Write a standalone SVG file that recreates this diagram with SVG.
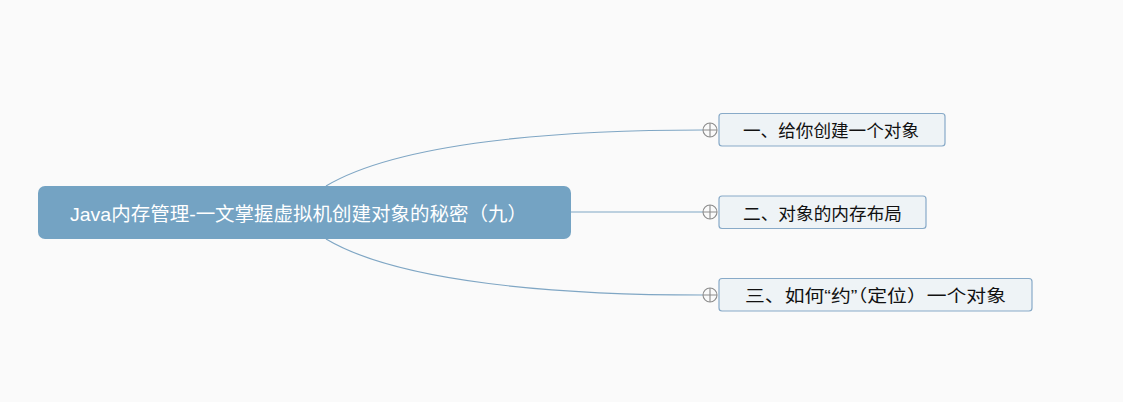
<svg xmlns="http://www.w3.org/2000/svg" width="1123" height="402" viewBox="0 0 1123 402">
<style>
.conn{fill:none;stroke:#7fa6c4;stroke-width:1.2}
.main{fill:#74a3c3}
.sub{fill:#eef3f6;stroke:#88aac8;stroke-width:1.2}
.mt{font-family:"Liberation Sans","Noto Sans CJK SC",sans-serif;font-size:19px;fill:#ffffff}
.st{font-family:"Liberation Sans","Noto Sans CJK SC",sans-serif;font-size:17px;fill:#111111}
.tog{fill:#fafafa;stroke:#8c8c8c;stroke-width:1.1}
</style>
<rect width="1123" height="402" fill="#fafafa"/>
<g id="connectors">
<path class="conn" d="M326,186 C400,142 560,130 703,130"/>
<path class="conn" d="M571,212 L703,212"/>
<path class="conn" d="M326,239 C400,283 560,295 703,295"/>
<g id="toggles">
<circle class="tog" cx="710" cy="130" r="7"/><path d="M703,130h14M710,123v14" stroke="#8c8c8c" stroke-width="1.1"/>
<circle class="tog" cx="710" cy="212" r="7"/><path d="M703,212h14M710,205v14" stroke="#8c8c8c" stroke-width="1.1"/>
<circle class="tog" cx="710" cy="295" r="7"/><path d="M703,295h14M710,288v14" stroke="#8c8c8c" stroke-width="1.1"/>
</g>
</g>
<g id="root">
<rect class="main" x="38" y="186" width="533" height="53" rx="7"/>
<text class="mt" x="70" y="220.5" textLength="457" lengthAdjust="spacingAndGlyphs">Java内存管理-一文掌握虚拟机创建对象的秘密（九）</text>
</g>
<g id="node1">
<rect class="sub" x="719" y="113.5" width="226" height="32.5" rx="3"/>
<text class="st" x="743" y="137" textLength="176" lengthAdjust="spacingAndGlyphs">一、给你创建一个对象</text>
</g>
<g id="node2">
<rect class="sub" x="719" y="196" width="207" height="32.5" rx="3"/>
<text class="st" x="743" y="219.5" textLength="159" lengthAdjust="spacingAndGlyphs">二、对象的内存布局</text>
</g>
<g id="node3">
<rect class="sub" x="719" y="278.5" width="313" height="32.5" rx="3"/>
<text class="st" x="745" y="302" textLength="261" lengthAdjust="spacingAndGlyphs">三、如何“约”（定位）一个对象</text>
</g>
</svg>
